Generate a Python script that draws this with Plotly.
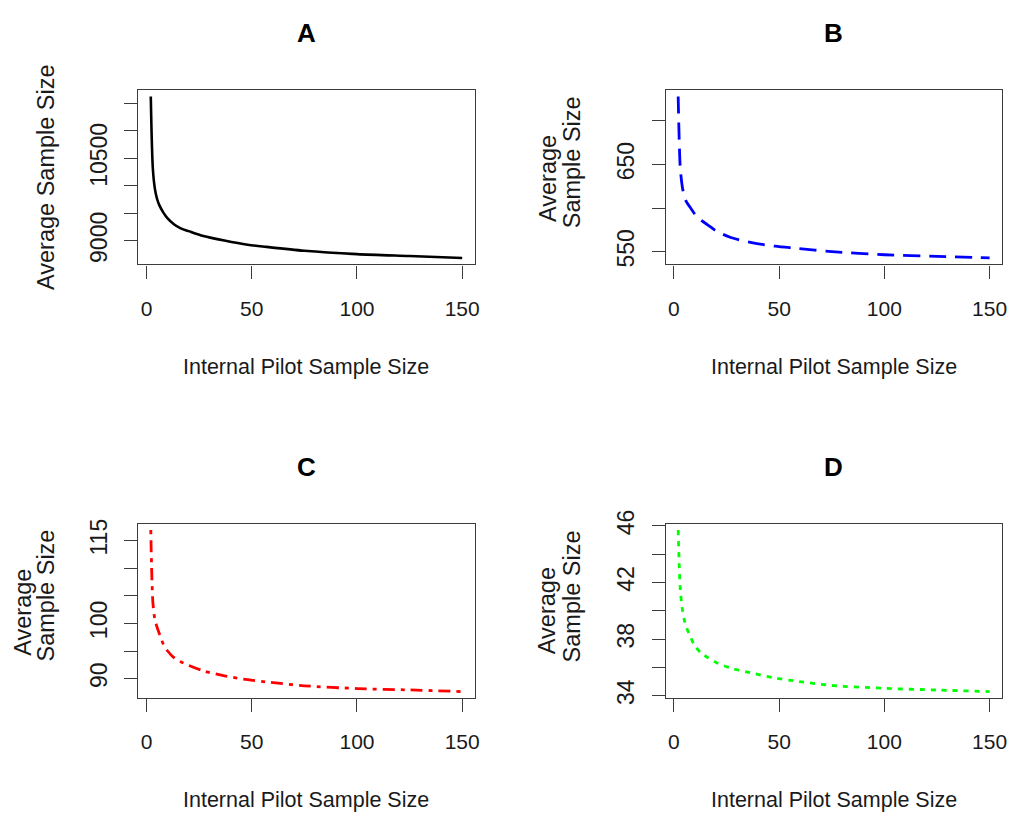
import plotly.graph_objects as go

W, H = 1019, 821

# Internal pilot sample size (x) shared by all four panels
pilot_n = [2, 3, 4, 5, 6, 8, 10, 13, 16, 20, 27, 37, 48, 57, 75, 100, 125, 150]

# Average total sample size for each scenario
avg_a = [11625, 10306, 9935, 9760, 9653, 9512, 9406, 9300, 9230, 9176,
         9088, 9005, 8929, 8889, 8818, 8758, 8723, 8688]
avg_b = [728, 646, 624, 613, 607, 600, 593, 586, 581, 574,
         566.5, 560.5, 556.5, 554.3, 550.3, 546.7, 544.8, 543]
avg_c = [116.9, 103.8, 100.6, 99.3, 98.2, 96.2, 95.0, 93.8, 93.1, 92.4,
         91.4, 90.5, 89.8, 89.4, 88.7, 88.2, 87.95, 87.65]
avg_d = [45.7, 41.5, 40.1, 39.3, 38.8, 38.1, 37.5, 37.0, 36.7, 36.35,
         35.95, 35.6, 35.25, 35.05, 34.72, 34.52, 34.4, 34.29]

# Axis ticks
x_ticks = [0, 50, 100, 150]
ticks_a = [9000, 9500, 10000, 10500, 11000, 11500]
labels_a = ["9000", "", "", "10500", "", ""]
ticks_b = [550, 600, 650, 700]
labels_b = ["550", "", "650", ""]
ticks_c = [90, 95, 100, 105, 110, 115]
labels_c = ["90", "", "100", "", "", "115"]
ticks_d = [34, 36, 38, 40, 42, 44, 46]
labels_d = ["34", "", "38", "", "42", "", "46"]

panel_titles = ["A", "B", "C", "D"]
x_title = "Internal Pilot Sample Size"

FONT = "Liberation Sans, Arial, Helvetica, sans-serif"
AXIS_COLOR = "#3c3c3c"


def padded(vals, frac=0.04):
    lo, hi = min(vals), max(vals)
    d = (hi - lo) * frac
    return [lo - d, hi + d]


# plot boxes in pixels: (left, right, top, bottom)
boxes = [(139, 477, 78, 257), (669, 1007, 78, 257),
         (139, 477, 523, 702), (669, 1007, 523, 702)]

series = [
    (avg_a, ticks_a, labels_a, dict(color="#000000", width=2.6, dash="solid")),
    (avg_b, ticks_b, labels_b, dict(color="#0000ff", width=2.8, dash="17px,9px")),
    (avg_c, ticks_c, labels_c, dict(color="#ff0000", width=2.8, dash="4px,6px,12px,6px")),
    (avg_d, ticks_d, labels_d, dict(color="#00ff00", width=2.8, dash="5px,6px")),
]

fig = go.Figure()
layout = dict(
    width=W, height=H,
    margin=dict(l=0, r=0, t=0, b=0),
    paper_bgcolor="white", plot_bgcolor="white",
    showlegend=False,
    font=dict(family=FONT, color="#1a1a1a"),
)

annotations = []
for i, ((yvals, yt, yl, line), (l, r, t, b)) in enumerate(zip(series, boxes)):
    k = "" if i == 0 else str(i + 1)
    fig.add_trace(go.Scatter(x=pilot_n, y=yvals, mode="lines",
                             line=dict(shape="spline", smoothing=0.8, **line),
                             xaxis="x" + k, yaxis="y" + k, hoverinfo="skip"))
    layout["xaxis" + k] = dict(
        domain=[l / W, r / W], anchor="y" + k,
        range=padded(pilot_n), tickvals=x_ticks, ticktext=[str(v) for v in x_ticks],
        showgrid=False, zeroline=False, showline=True, mirror=True,
        linecolor=AXIS_COLOR, linewidth=1.3,
        ticks="outside", ticklen=13, tickwidth=1.3, tickcolor=AXIS_COLOR,
        tickfont=dict(size=21, family=FONT, color="#1a1a1a"),
        ticklabelstandoff=12,
    )
    layout["yaxis" + k] = dict(
        domain=[1 - b / H, 1 - t / H], anchor="x" + k,
        range=padded(yvals), tickvals=yt, ticktext=yl,
        showgrid=False, zeroline=False, showline=True, mirror=True,
        linecolor=AXIS_COLOR, linewidth=1.3,
        ticks="outside", ticklen=13, tickwidth=1.3, tickcolor=AXIS_COLOR,
        tickangle=-90,
        tickfont=dict(size=23, family=FONT, color="#1a1a1a"),
        ticklabelstandoff=8,
    )
    cx = (l + r) / 2
    # panel title
    annotations.append(dict(text="<b>%s</b>" % panel_titles[i], x=cx / W, y=1 - (t - 58) / H,
                            xref="paper", yref="paper", showarrow=False,
                            xanchor="center", yanchor="middle",
                            font=dict(size=26, family=FONT, color="#000000")))
    # x-axis title
    annotations.append(dict(text=x_title, x=cx / W, y=1 - (b + 105) / H,
                            xref="paper", yref="paper", showarrow=False,
                            xanchor="center", yanchor="middle",
                            font=dict(size=21.5, family=FONT, color="#1a1a1a")))

# y-axis titles
ylab_font = dict(size=23.5, family=FONT, color="#1a1a1a")
ylabels = [
    ("Average Sample Size", 46, 167.5),
    ("Average", 550, 169), ("Sample Size", 575, 152),
    ("Average", 23, 613.5), ("Sample Size", 46, 597),
    ("Average", 550, 612.5), ("Sample Size", 575, 597.5),
]
for txt, px, py in ylabels:
    annotations.append(dict(text=txt, x=px / W, y=1 - py / H, xref="paper", yref="paper",
                            showarrow=False, textangle=-90,
                            xanchor="center", yanchor="middle", font=ylab_font))

layout["annotations"] = annotations
fig.update_layout(**layout)
fig.write_html("out.html")
